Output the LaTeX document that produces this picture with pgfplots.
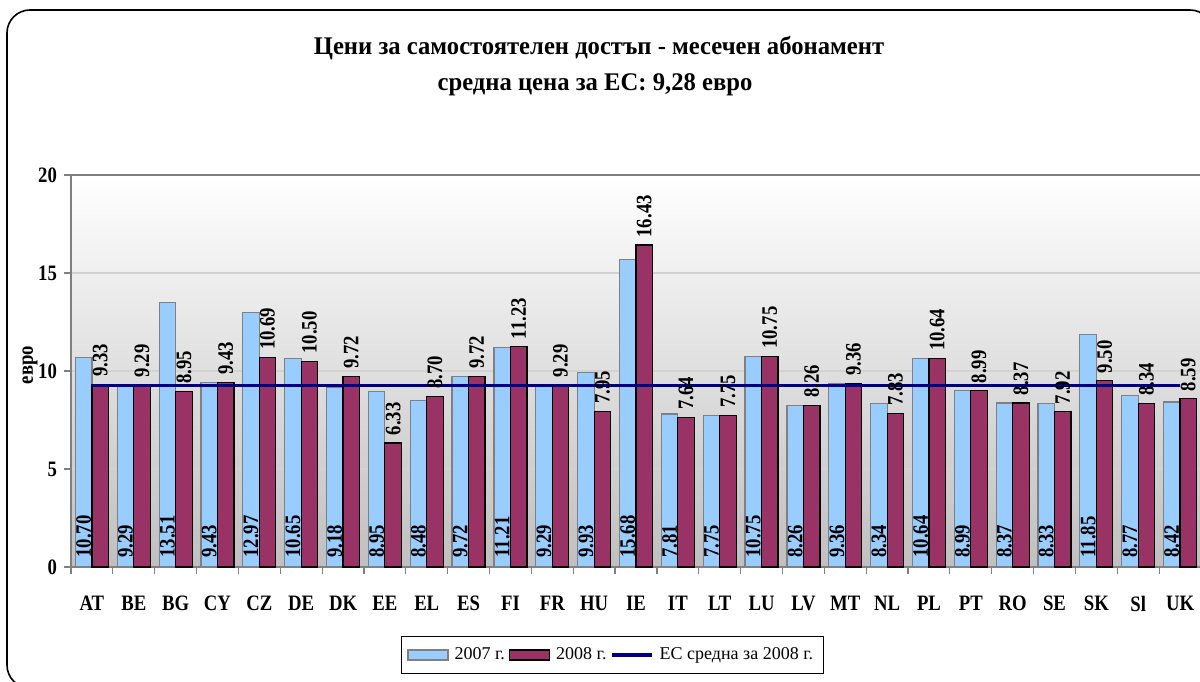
\documentclass[border=0pt]{standalone}
\usepackage{fontspec}
\setmainfont{Liberation Serif}[FakeStretch=0.85]
\newfontfamily\plainfont{Liberation Serif}
\newfontfamily\titlefont{Liberation Serif}[FakeStretch=0.97]
\usepackage{pgfplots}
\usepackage{pgfplotstable}
\pgfplotsset{compat=1.18}
\definecolor{c07}{HTML}{99CCFF}
\definecolor{c08}{HTML}{993366}
\definecolor{avgc}{HTML}{000080}
\definecolor{axgray}{HTML}{808080}

\pgfplotstableread{
x y07 y08
0 10.70 9.33
1 9.29 9.29
2 13.51 8.95
3 9.43 9.43
4 12.97 10.69
5 10.65 10.50
6 9.18 9.72
7 8.95 6.33
8 8.48 8.70
9 9.72 9.72
10 11.21 11.23
11 9.29 9.29
12 9.93 7.95
13 15.68 16.43
14 7.81 7.64
15 7.75 7.75
16 10.75 10.75
17 8.26 8.26
18 9.36 9.36
19 8.34 7.83
20 10.64 10.64
21 8.99 8.99
22 8.37 8.37
23 8.33 7.92
24 11.85 9.50
25 8.77 8.34
26 8.42 8.59
}\data

\begin{document}
\begin{tikzpicture}
\useasboundingbox (0,0) rectangle (600pt,340.5pt);
\begin{scope}
\clip (0,0) rectangle (600pt,340.5pt);
\draw[line width=0.8pt, rounded corners=11.5pt] (3.5pt,-3.5pt) rectangle (606.5pt,335.5pt);
\end{scope}
\node[font=\titlefont\bfseries\fontsize{12.7}{15}\selectfont] at (299.5pt,316.5pt) {Цени за самостоятелен достъп - месечен абонамент};
\node[font=\titlefont\bfseries\fontsize{12.7}{15}\selectfont] at (297.5pt,298pt) {средна цена за ЕС: 9,28 евро};
\node[font=\bfseries\fontsize{11}{12}\selectfont, rotate=90] at (15pt,158pt) {евро};
\begin{axis}[
  at={(35.5pt,57pt)}, anchor=south west,
  scale only axis, width=565pt, height=196pt,
  xmin=-0.5, xmax=26.5, ymin=0, ymax=20,
  ytick={0,5,10,15,20},
  xtick={0,...,26},
  xticklabels={AT,BE,BG,CY,CZ,DE,DK,EE,EL,ES,FI,FR,HU,IE,IT,LT,LU,LV,MT,NL,PL,PT,RO,SE,SK,Sl,UK},
  minor xtick={-0.5,0.5,...,26.5},
  major x tick style={draw=none},
  xtick pos=bottom, ytick pos=left,
  tick align=outside,
  major tick length=3.5pt, minor tick length=3.5pt,
  tick style={axgray, line width=0.6pt},
  axis line style={axgray, line width=0.8pt},
  ymajorgrids, major grid style={gray!35, line width=0.6pt},
  axis background/.style={top color=white, bottom color=gray!50},
  /pgf/number format/assume math mode=true,
  ticklabel style={font=\bfseries\fontsize{11}{12}\selectfont},
  xticklabel style={yshift=-7.5pt},
  legend style={at={(rel axis cs:0.479,-0.2245)}, anchor=center, legend columns=-1, draw=black, line width=0.6pt,
    font=\plainfont\fontsize{9}{10}\selectfont, inner ysep=3.5pt,
    /tikz/every odd column/.append style={column sep=1pt}},
  legend cell align=left,
]
\addplot[ybar, bar width=8.25pt, bar shift=-4.125pt, fill=c07, draw=axgray, line width=0.6pt,
  visualization depends on={y \as \rawy},
  nodes near coords={\pgfmathprintnumber[fixed,fixed zerofill,precision=2,assume math mode=true]{\pgfplotspointmeta}},
  every node near coord/.append style={shift={(axis direction cs:0,-\rawy)}, xshift=-4.125pt, rotate=90, anchor=west, inner xsep=4.5pt, inner ysep=0pt, black, font=\bfseries\fontsize{11}{12}\selectfont},
  legend image code/.code={\draw[fill=c07, draw=axgray, line width=0.6pt] (0pt,-2.5pt) rectangle (20pt,2.5pt);}
] table[x=x,y=y07] \data;
\addplot[ybar, bar width=8.25pt, bar shift=4.125pt, fill=c08, draw=black, line width=0.6pt,
  nodes near coords={\pgfmathprintnumber[fixed,fixed zerofill,precision=2,assume math mode=true]{\pgfplotspointmeta}},
  every node near coord/.append style={xshift=4.125pt, rotate=90, anchor=west, inner xsep=3.5pt, inner ysep=0pt, black, font=\bfseries\fontsize{11}{12}\selectfont},
  legend image code/.code={\draw[fill=c08, draw=black, line width=0.6pt] (0pt,-2.5pt) rectangle (20pt,2.5pt);}
] table[x=x,y=y08] \data;
\addplot[avgc, line width=1.6pt, sharp plot, mark=none,
  legend image code/.code={\draw[avgc, line width=1.6pt] (0pt,0pt) -- (20pt,0pt);}
] coordinates {(0,9.28) (26,9.28)};
\legend{2007 г., 2008 г., ЕС средна за 2008 г.}
\end{axis}
\end{tikzpicture}
\end{document}
